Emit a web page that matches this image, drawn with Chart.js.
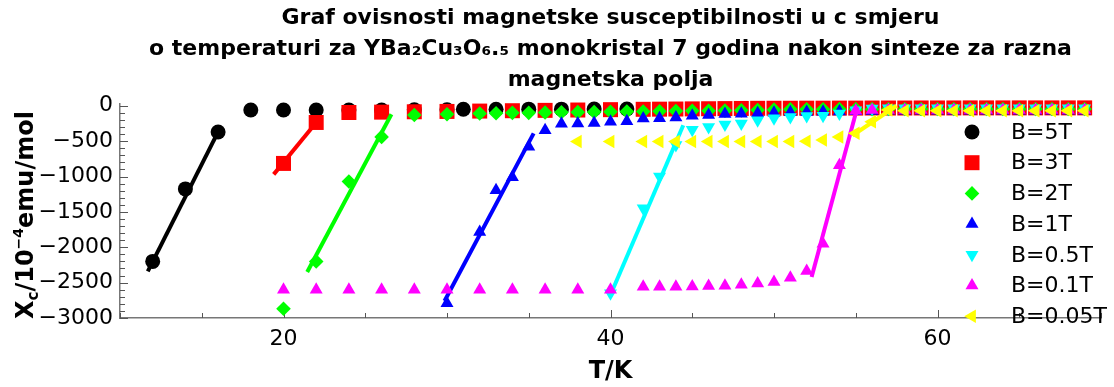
<!DOCTYPE html>
<html>
<head>
<meta charset="utf-8">
<script src="https://cdn.jsdelivr.net/npm/chart.js@4/dist/chart.umd.min.js"></script>
<style>
html,body{margin:0;padding:0;background:#fff;}
#wrap{width:1114px;height:387px;}
</style>
</head>
<body>
<div id="wrap"><canvas id="c" width="1114" height="387"></canvas></div>
<script>
// ---------------- DATA ----------------
const titleLines = [
  'Graf ovisnosti magnetske susceptibilnosti u c smjeru',
  'o temperaturi za YBa\u2082Cu\u2083O\u2086.\u2085 monokristal 7 godina nakon sinteze za razna',
  'magnetska polja'
];
const xAxisTitle = 'T/K';
const seriesLabels = ['B=5T', 'B=3T', 'B=2T', 'B=1T', 'B=0.5T', 'B=0.1T', 'B=0.05T'];

// B = 5 T
const tempB5 = [12, 14, 16, 18, 20, 22, 24, 26, 28, 30, 31, 33, 35, 37, 39, 41];
const chiB5  = [-2200, -1175, -370, -60, -60, -60, -60, -60, -58, -56, -50, -50, -48, -48, -46, -46];
// B = 3 T
const tempB3 = [20, 22, 24, 26, 28, 30, 32, 34, 36, 38, 40,
  42, 43, 44, 45, 46, 47, 48, 49, 50, 51, 52, 53, 54, 55, 56, 57, 58, 59, 60, 61, 62, 63, 64, 65, 66, 67, 68, 69];
const chiB3  = [-815, -236, -95, -90, -85, -80, -75, -70, -65, -60, -55,
  -50, -48, -46, -44, -42, -40, -38, -36, -35, -35, -34, -34, -33, -33, -32, -32, -32, -31, -31, -31, -30, -30, -30, -30, -30, -30, -30, -30];
// B = 2 T
const tempB2 = [20, 22, 24, 26, 28, 30,
  32, 33, 34, 35, 36, 37, 38, 39, 40, 41, 42, 43, 44, 45, 46, 47, 48, 49, 50,
  51, 52, 53, 54, 55, 56, 57, 58, 59, 60, 61, 62, 63, 64, 65, 66, 67, 68, 69];
const chiB2  = [-2870, -2200, -1070, -440, -130, -120,
  -110, -105, -100, -100, -95, -92, -90, -88, -85, -82, -80, -78, -75, -72, -70, -68, -65, -60, -55,
  -50, -50, -50, -48, -48, -48, -46, -46, -46, -45, -45, -45, -45, -45, -45, -45, -45, -45, -45];
// B = 1 T
const tempB1 = [30,
  32, 33, 34, 35, 36, 37, 38, 39, 40, 41, 42, 43, 44, 45, 46, 47, 48, 49, 50, 51, 52, 53, 54, 55, 56,
  57, 58, 59, 60, 61, 62, 63, 64, 65, 66, 67, 68, 69];
const chiB1  = [-2790,
  -1785, -1195, -1010, -580, -345, -255, -250, -245, -225, -220, -180, -175, -165, -140, -130, -118, -112, -105, -98, -92, -88, -85, -80, -78, -75,
  -72, -70, -70, -70, -70, -70, -70, -70, -70, -70, -70, -70, -70];
// B = 0.5 T
const tempB05 = [40, 42, 43, 44, 45, 46, 47, 48, 49, 50, 51, 52, 53, 54, 55, 56, 57,
  58, 59, 60, 61, 62, 63, 64, 65, 66, 67, 68, 69];
const chiB05  = [-2650, -1450, -1000, -555, -340, -300, -265, -250, -205, -175, -160, -146, -140, -108, -62, -40, -35,
  -35, -35, -35, -35, -35, -35, -35, -35, -35, -35, -35, -35];
// B = 0.1 T
const tempB01 = [20, 22, 24, 26, 28, 30, 32, 34, 36, 38, 40,
  42, 43, 44, 45, 46, 47, 48, 49, 50, 51, 52, 53, 54, 55,
  56, 57, 58, 59, 60, 61, 62, 63, 64, 65, 66, 67, 68, 69];
const chiB01  = [-2600, -2600, -2600, -2600, -2600, -2600, -2600, -2600, -2600, -2600, -2600,
  -2560, -2560, -2558, -2556, -2548, -2545, -2530, -2514, -2490, -2430, -2335, -1950, -840, -70,
  -60, -60, -60, -60, -60, -60, -60, -60, -60, -60, -60, -60, -60, -60];
// B = 0.05 T
const tempB005 = [38, 40, 42, 43, 44, 45, 46, 47, 48, 49, 50, 51, 52, 53, 54, 55, 56, 57,
  58, 59, 60, 61, 62, 63, 64, 65, 66, 67, 68, 69];
const chiB005  = [-505, -505, -505, -505, -505, -505, -505, -505, -505, -505, -505, -505, -500, -485, -440, -390, -225, -60,
  -70, -70, -70, -70, -70, -70, -70, -70, -70, -70, -70, -70];

// Linear fits of the transition regions (end points)
const fitTempB5 = [11.7, 16.0];   const fitChiB5 = [-2340, -370];
const fitTempB3 = [19.4, 22.0];   const fitChiB3 = [-970, -236];
const fitTempB2 = [21.45, 26.6];  const fitChiB2 = [-2350, -120];
const fitTempB1 = [29.85, 35.3];  const fitChiB1 = [-2760, -390];
const fitTempB05 = [39.95, 44.45]; const fitChiB05 = [-2700, -275];
const fitTempB01 = [52.3, 55.1];  const fitChiB01 = [-2420, -20];
const fitTempB005 = [54.8, 57.5]; const fitChiB005 = [-420, 0];

// ---------------- STYLE ----------------
const series = [
  {t: tempB5,   v: chiB5,   ft: fitTempB5,   fv: fitChiB5,   color: '#000000', style: 'circle',   rot: 0,   r: 7.5},
  {t: tempB3,   v: chiB3,   ft: fitTempB3,   fv: fitChiB3,   color: '#ff0000', style: 'rect',     rot: 0,   r: 10.6},
  {t: tempB2,   v: chiB2,   ft: fitTempB2,   fv: fitChiB2,   color: '#00ff00', style: 'rectRot',  rot: 0,   r: 7.3},
  {t: tempB1,   v: chiB1,   ft: fitTempB1,   fv: fitChiB1,   color: '#0000ff', style: 'triangle', rot: 0,   r: 7.5},
  {t: tempB05,  v: chiB05,  ft: fitTempB05,  fv: fitChiB05,  color: '#00ffff', style: 'triangle', rot: 180, r: 7.5},
  {t: tempB01,  v: chiB01,  ft: fitTempB01,  fv: fitChiB01,  color: '#ff00ff', style: 'triangle', rot: 0,   r: 7.5},
  {t: tempB005, v: chiB005, ft: fitTempB005, fv: fitChiB005, color: '#ffff00', style: 'triangle', rot: 270, r: 7.8}
];
const FONT = 'DejaVu Sans';
const toXY = (xs, ys) => xs.map((x, i) => ({x: x, y: ys[i]}));

const datasets = [];
series.forEach((s, i) => {
  const base = 100 - i * 10;
  datasets.push({
    label: seriesLabels[i],
    data: toXY(s.t, s.v),
    pointStyle: s.style,
    pointRotation: s.rot,
    pointRadius: s.r,
    pointHoverRadius: s.r,
    pointBackgroundColor: s.color,
    pointBorderWidth: 0,
    showLine: false,
    clip: false,
    order: base
  });
  datasets.push({
    label: seriesLabels[i] + ' fit',
    data: toXY(s.ft, s.fv),
    showLine: true,
    borderColor: s.color,
    borderWidth: 4,
    pointRadius: 0,
    pointHoverRadius: 0,
    clip: false,
    order: base - 5
  });
});

function drawMarker(ctx, s, x, y) {
  ctx.save();
  ctx.fillStyle = s.color;
  ctx.beginPath();
  const r = s.r;
  if (s.style === 'circle') {
    ctx.arc(x, y, r, 0, Math.PI * 2);
  } else if (s.style === 'rect') {
    const h = r * Math.SQRT1_2;
    ctx.rect(x - h, y - h, 2 * h, 2 * h);
  } else if (s.style === 'rectRot') {
    ctx.moveTo(x - r, y); ctx.lineTo(x, y - r); ctx.lineTo(x + r, y); ctx.lineTo(x, y + r); ctx.closePath();
  } else {
    let a = s.rot * Math.PI / 180;
    ctx.moveTo(x + Math.sin(a) * r, y - Math.cos(a) * r);
    a += 2 * Math.PI / 3;
    ctx.lineTo(x + Math.sin(a) * r, y - Math.cos(a) * r);
    a += 2 * Math.PI / 3;
    ctx.lineTo(x + Math.sin(a) * r, y - Math.cos(a) * r);
    ctx.closePath();
  }
  ctx.fill();
  ctx.restore();
}

const decorPlugin = {
  id: 'decor',
  beforeDatasetsDraw(chart) {
    const ctx = chart.ctx;
    const {x, y} = chart.scales;
    const area = chart.chartArea;
    ctx.save();
    ctx.strokeStyle = '#555';
    ctx.lineWidth = 1;
    x.ticks.forEach(t => {
      const px = Math.round(x.getPixelForValue(t.value)) + 0.5;
      const len = (t.value % 20 === 0) ? 8 : 5;
      ctx.beginPath(); ctx.moveTo(px, area.bottom); ctx.lineTo(px, area.bottom - len); ctx.stroke();
    });
    y.ticks.forEach(t => {
      const py = Math.round(y.getPixelForValue(t.value)) + 0.5;
      const len = (t.value % 500 === 0) ? 8 : 5;
      ctx.beginPath(); ctx.moveTo(area.left, py); ctx.lineTo(area.left + len, py); ctx.stroke();
    });
    ctx.restore();
  },
  afterDraw(chart) {
    const ctx = chart.ctx;
    // y axis title with subscript / superscript
    const runs = [
      {t: 'X', size: 24, dy: 0},
      {t: 'c', size: 15, dy: 5},
      {t: '/10', size: 24, dy: 0},
      {t: '\u22124', size: 14, dy: -10},
      {t: 'emu/mol', size: 24, dy: 0}
    ];
    ctx.save();
    ctx.fillStyle = '#000';
    ctx.textBaseline = 'alphabetic';
    let total = 0;
    runs.forEach(r => { ctx.font = 'bold ' + r.size + 'px "' + FONT + '"'; r.w = ctx.measureText(r.t).width; total += r.w; });
    ctx.translate(33, 215);
    ctx.rotate(-Math.PI / 2);
    let cx = -total / 2;
    runs.forEach(r => { ctx.font = 'bold ' + r.size + 'px "' + FONT + '"'; ctx.fillText(r.t, cx, r.dy); cx += r.w; });
    ctx.restore();

    // legend
    ctx.save();
    ctx.font = '22px "' + FONT + '"';
    ctx.fillStyle = '#000';
    ctx.textBaseline = 'middle';
    series.forEach((s, i) => {
      const ly = 132 + i * 30.7;
      drawMarker(ctx, s, 972, ly);
      ctx.fillStyle = '#000';
      ctx.fillText(seriesLabels[i], 1011, ly + 1);
    });
    ctx.restore();
  }
};

new Chart(document.getElementById('c'), {
  type: 'scatter',
  data: {datasets: datasets},
  plugins: [decorPlugin],
  options: {
    responsive: false,
    animation: false,
    devicePixelRatio: 1,
    layout: {padding: {left: 0, right: 13, top: 0, bottom: 0}},
    plugins: {
      legend: {display: false},
      tooltip: {enabled: false},
      title: {
        display: true,
        text: titleLines,
        fullSize: false,
        color: '#000',
        font: {family: FONT, size: 22, weight: 'bold', lineHeight: 31 / 22},
        padding: {top: 3, bottom: 8}
      }
    },
    scales: {
      x: {
        type: 'linear',
        min: 10, max: 70,
        afterFit(s) { s.height = 69; },
        grid: {display: true, drawOnChartArea: false, drawTicks: false},
        border: {display: true, color: '#777', width: 1.5},
        ticks: {
          stepSize: 5, autoSkip: false, includeBounds: false, maxRotation: 0,
          padding: 8, color: '#000',
          font: {family: FONT, size: 22},
          callback: v => (v % 20 === 0 ? String(v) : '')
        },
        title: {
          display: true, text: xAxisTitle, color: '#000',
          font: {family: FONT, size: 24, weight: 'bold', lineHeight: 1.2},
          padding: {top: 0, bottom: 1}
        }
      },
      y: {
        type: 'linear',
        min: -3000, max: 25,
        afterFit(s) { s.width = 120; },
        grid: {display: true, drawOnChartArea: false, drawTicks: false},
        border: {display: true, color: '#777', width: 1.5},
        ticks: {
          stepSize: 100, autoSkip: false, includeBounds: false,
          padding: 7, color: '#000',
          font: {family: FONT, size: 22},
          callback: v => (v % 500 === 0 ? (v === 0 ? '0' : '\u2212' + Math.abs(v)) : '')
        },
        title: {display: false}
      }
    }
  }
});
</script>
</body>
</html>
